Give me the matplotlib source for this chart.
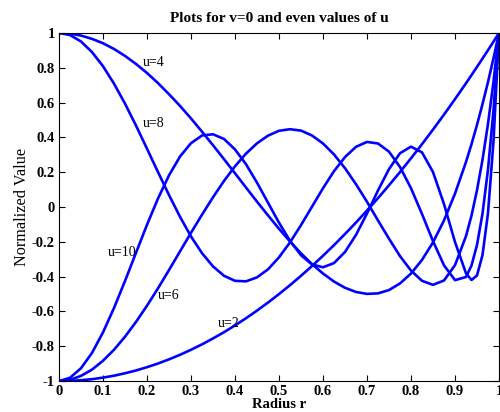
import numpy as np
import matplotlib
matplotlib.use("Agg")
import matplotlib.pyplot as plt

# radius samples
r = [0, 0.025, 0.05, 0.075, 0.1, 0.125, 0.15, 0.175, 0.2, 0.225, 0.25, 0.275,
     0.3, 0.325, 0.35, 0.375, 0.4, 0.425, 0.45, 0.475, 0.5, 0.525, 0.55, 0.575,
     0.6, 0.625, 0.65, 0.675, 0.7, 0.725, 0.75, 0.775, 0.8, 0.825, 0.85, 0.875,
     0.9, 0.925, 0.9375, 0.95, 0.9625, 0.975, 0.9875, 1]

u2 = [-1, -0.999, -0.995, -0.989, -0.98, -0.969, -0.955, -0.939, -0.92, -0.899,
      -0.875, -0.849, -0.82, -0.789, -0.755, -0.719, -0.68, -0.639, -0.595,
      -0.549, -0.5, -0.449, -0.395, -0.339, -0.28, -0.219, -0.155, -0.089,
      -0.02, 0.051, 0.125, 0.201, 0.28, 0.361, 0.445, 0.531, 0.62, 0.711,
      0.758, 0.805, 0.853, 0.901, 0.95, 1]
u4 = [1, 0.996, 0.985, 0.966, 0.941, 0.908, 0.868, 0.822, 0.77, 0.712, 0.648,
      0.581, 0.509, 0.433, 0.355, 0.275, 0.194, 0.112, 0.031, -0.048, -0.125,
      -0.198, -0.266, -0.328, -0.382, -0.428, -0.464, -0.488, -0.499, -0.496,
      -0.477, -0.439, -0.382, -0.304, -0.203, -0.077, 0.077, 0.259, 0.361,
      0.472, 0.591, 0.718, 0.855, 1]
u6 = [-1, -0.993, -0.97, -0.934, -0.883, -0.82, -0.745, -0.66, -0.567, -0.467,
      -0.362, -0.255, -0.148, -0.044, 0.056, 0.15, 0.234, 0.307, 0.366, 0.41,
      0.438, 0.447, 0.439, 0.411, 0.365, 0.302, 0.223, 0.131, 0.03, -0.077,
      -0.182, -0.282, -0.365, -0.424, -0.447, -0.422, -0.334, -0.167, -0.049,
      0.097, 0.271, 0.478, 0.72, 1]
u8 = [1, 0.988, 0.951, 0.89, 0.809, 0.709, 0.594, 0.468, 0.335, 0.201, 0.069,
      -0.056, -0.169, -0.265, -0.341, -0.395, -0.424, -0.427, -0.404, -0.358,
      -0.289, -0.203, -0.104, 0.002, 0.108, 0.206, 0.287, 0.346, 0.374, 0.365,
      0.318, 0.23, 0.108, -0.04, -0.196, -0.335, -0.42, -0.402, -0.336,
      -0.218, -0.038, 0.216, 0.557, 1]
u10 = [-1, -0.981, -0.926, -0.838, -0.72, -0.58, -0.425, -0.263, -0.102, 0.049,
       0.182, 0.29, 0.367, 0.411, 0.418, 0.391, 0.331, 0.246, 0.14, 0.025,
       -0.09, -0.194, -0.277, -0.33, -0.346, -0.322, -0.258, -0.16, -0.037,
       0.095, 0.218, 0.309, 0.347, 0.314, 0.201, 0.017, -0.201, -0.381, -0.419,
       -0.393, -0.276, -0.035, 0.377, 1]

series = [u2, u4, u6, u8, u10]
labels = ["u=2", "u=4", "u=6", "u=8", "u=10"]
label_pos = [(0.36, -0.67), (0.19, 0.83), (0.225, -0.51), (0.19, 0.48), (0.11, -0.26)]

xticks = [0, 0.1, 0.2, 0.3, 0.4, 0.5, 0.6, 0.7, 0.8, 0.9, 1]
xtick_labels = ["0", "0.1", "0.2", "0.3", "0.4", "0.5", "0.6", "0.7", "0.8", "0.9", "1"]
yticks = [-1, -0.8, -0.6, -0.4, -0.2, 0, 0.2, 0.4, 0.6, 0.8, 1]
ytick_labels = ["-1", "-0.8", "-0.6", "-0.4", "-0.2", "0", "0.2", "0.4", "0.6", "0.8", "1"]

plt.rcParams['font.family'] = ['Liberation Serif', 'DejaVu Serif']

fig = plt.figure(figsize=(5, 4.12), dpi=100)
ax = fig.add_axes([0.118, 0.075, 0.88, 0.845])

for ys in series:
    ax.plot(r, ys, color='#0000ff', lw=1.9, solid_capstyle='round', solid_joinstyle='round')

for txt, (x, y) in zip(labels, label_pos):
    ax.text(x, y, txt, fontsize=10, va='center', ha='left')

ax.set_xlim(0, 1)
ax.set_ylim(-1, 1)
ax.set_xticks(xticks)
ax.set_xticklabels(xtick_labels, fontweight='bold')
ax.set_yticks(yticks)
ax.set_yticklabels(ytick_labels, fontweight='bold')
ax.tick_params(direction='in', top=True, right=True, labelsize=10.5, length=4, pad=3)
ax.set_title("Plots for v=0 and even values of u", fontsize=11, fontweight='bold', pad=8)
ax.set_xlabel("Radius r", fontsize=10.5, fontweight='bold', labelpad=0)
ax.set_ylabel("Normalized Value", fontsize=11.7, labelpad=1)

fig.savefig("out.png", dpi=100)
